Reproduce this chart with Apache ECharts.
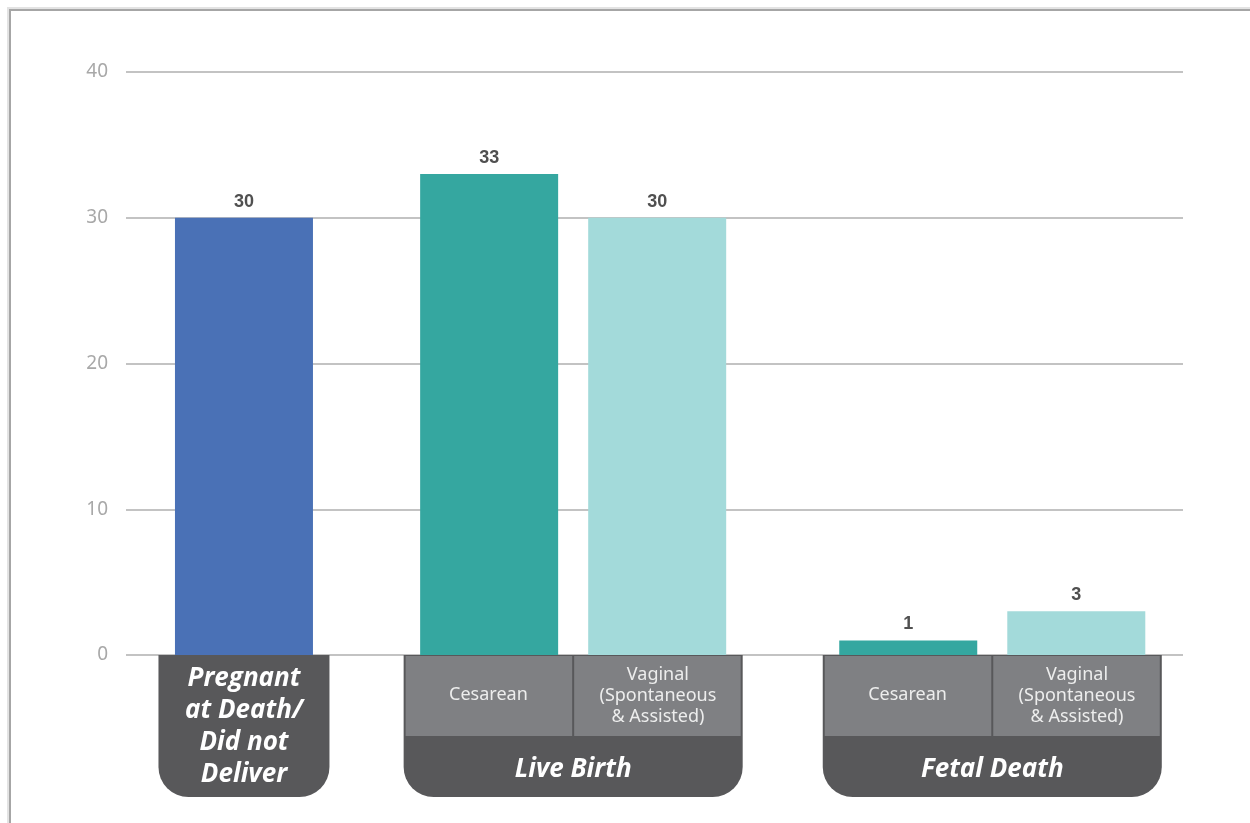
<!DOCTYPE html>
<html>
<head>
<meta charset="utf-8">
<script src="https://cdn.jsdelivr.net/npm/echarts@6/dist/echarts.min.js"></script>
<style>
  html, body { margin: 0; padding: 0; background: #ffffff; }
  #wrap { position: relative; width: 1250px; height: 823px; overflow: hidden; }
  #frameOuter { position: absolute; left: 7px; top: 7px; width: 1300px; height: 900px;
    border-left: 2px solid #E3E3E3; border-top: 2px solid #E3E3E3; }
  #frameInner { position: absolute; left: 0; top: 0; width: 1300px; height: 900px;
    border-left: 2px solid #A6A6A6; border-top: 2px solid #A6A6A6; }
  #chart { position: absolute; left: 0; top: 0; width: 1250px; height: 823px; }
</style>
</head>
<body>
<div id="wrap">
  <div id="frameOuter"><div id="frameInner"></div></div>
  <div id="chart"></div>
</div>
<script>
// Outcome groups and delivery methods
const groups = ['Pregnant\nat Death/\nDid not\nDeliver', 'Live Birth', 'Fetal Death'];
const methods = ['Cesarean', 'Vaginal\n(Spontaneous\n& Assisted)'];

// Counts
const notDelivered = [30];      // Pregnant at death / did not deliver
const cesarean = [33, 1];       // Live birth, fetal death
const vaginal = [30, 3];        // Live birth, fetal death

// Y axis ticks
const yMin = 0, yMax = 40, yStep = 10;

// Horizontal layout: bar centres along a hidden value axis (units of one bar slot)
const xMax = 6.29;
const slotNotDelivered = [0.702];
const slotCesarean = [2.161, 4.655];
const slotVaginal = [3.161, 5.655];
const barW = 138;

const colors = { blue: '#4A71B6', teal: '#35A7A0', aqua: '#A3DADA',
  boxDark: '#58585A', boxCell: '#7F8083' };

const chart = echarts.init(document.getElementById('chart'), null, { renderer: 'canvas' });

const valueLabel = {
  show: true, position: 'top', distance: 7,
  color: '#505050', fontSize: 18, fontWeight: 'bold',
  fontFamily: '"Liberation Sans", Arial, sans-serif'
};

function pairs(xs, ys) { return ys.map((v, i) => [xs[i], v]); }

chart.setOption({
  animation: false,
  grid: { left: 126, right: 67, top: 72, bottom: 168, containLabel: false },
  xAxis: {
    type: 'value', min: 0, max: xMax,
    show: false, splitLine: { show: false }
  },
  yAxis: {
    type: 'value', min: yMin, max: yMax, interval: yStep,
    axisLine: { show: false }, axisTick: { show: false },
    axisLabel: { color: '#A8A8A8', fontSize: 19, margin: 18,
      fontFamily: '"Noto Sans", sans-serif' },
    splitLine: { lineStyle: { color: '#C3C3C3', width: 2 } }
  },
  series: [
    { name: 'Pregnant at Death/Did not Deliver', type: 'bar', barWidth: barW,
      itemStyle: { color: colors.blue }, label: valueLabel,
      data: pairs(slotNotDelivered, notDelivered), z: 2 },
    { name: 'Cesarean', type: 'bar', barWidth: barW, barGap: '-100%',
      itemStyle: { color: colors.teal }, label: valueLabel,
      data: pairs(slotCesarean, cesarean), z: 2 },
    { name: 'Vaginal', type: 'bar', barWidth: barW, barGap: '-100%',
      itemStyle: { color: colors.aqua }, label: valueLabel,
      data: pairs(slotVaginal, vaginal), z: 2 }
  ]
});

// Category label boxes beneath the axis, positioned from the axis scale
function px(x, y) { return chart.convertToPixel({ xAxisIndex: 0, yAxisIndex: 0 }, [x, y]); }

const boldItalic = { fill: '#FFFFFF', fontSize: 26, fontWeight: 'bold', fontStyle: 'italic',
  fontFamily: '"Open Sans", "Noto Sans", sans-serif', align: 'center', verticalAlign: 'middle' };
const cellFont = { fill: '#EDEDED', fontSize: 18,
  fontFamily: '"Noto Sans", sans-serif', align: 'center', verticalAlign: 'middle' };

const pad = 16.5, boxH = 142, cellH = 81, radius = 30;
const elements = [];

function box(left, right, y0) {
  elements.push({ type: 'rect', z: 10,
    shape: { x: left, y: y0, width: right - left, height: boxH, r: [0, 0, radius, radius] },
    style: { fill: colors.boxDark } });
}

const base = px(0, 0)[1];

// Single box: not delivered
{
  const c = px(slotNotDelivered[0], 0)[0];
  const l = c - barW / 2 - pad, r = c + barW / 2 + pad;
  box(l, r, base);
  elements.push({ type: 'text', z: 11, x: c, y: base + 72,
    style: Object.assign({ text: groups[0], lineHeight: 32 }, boldItalic) });
}

// Two-part boxes: live birth, fetal death
[0, 1].forEach(i => {
  const c1 = px(slotCesarean[i], 0)[0];
  const c2 = px(slotVaginal[i], 0)[0];
  const l = c1 - barW / 2 - pad, r = c2 + barW / 2 + pad;
  const mid = (c1 + c2) / 2;
  box(l, r, base);
  elements.push({ type: 'rect', z: 11,
    shape: { x: l + 2, y: base + 1, width: mid - 1 - (l + 2), height: cellH - 1 },
    style: { fill: colors.boxCell } });
  elements.push({ type: 'rect', z: 11,
    shape: { x: mid + 1, y: base + 1, width: (r - 2) - (mid + 1), height: cellH - 1 },
    style: { fill: colors.boxCell } });
  elements.push({ type: 'text', z: 12, x: (l + mid) / 2, y: base + 40,
    style: Object.assign({ text: methods[0], lineHeight: 21 }, cellFont) });
  elements.push({ type: 'text', z: 12, x: (mid + r) / 2, y: base + 41,
    style: Object.assign({ text: methods[1], lineHeight: 21 }, cellFont) });
  elements.push({ type: 'text', z: 12, x: (l + r) / 2, y: base + cellH + 34,
    style: Object.assign({ text: groups[i + 1] }, boldItalic) });
});

chart.setOption({ graphic: { elements: elements } });
</script>
</body>
</html>
